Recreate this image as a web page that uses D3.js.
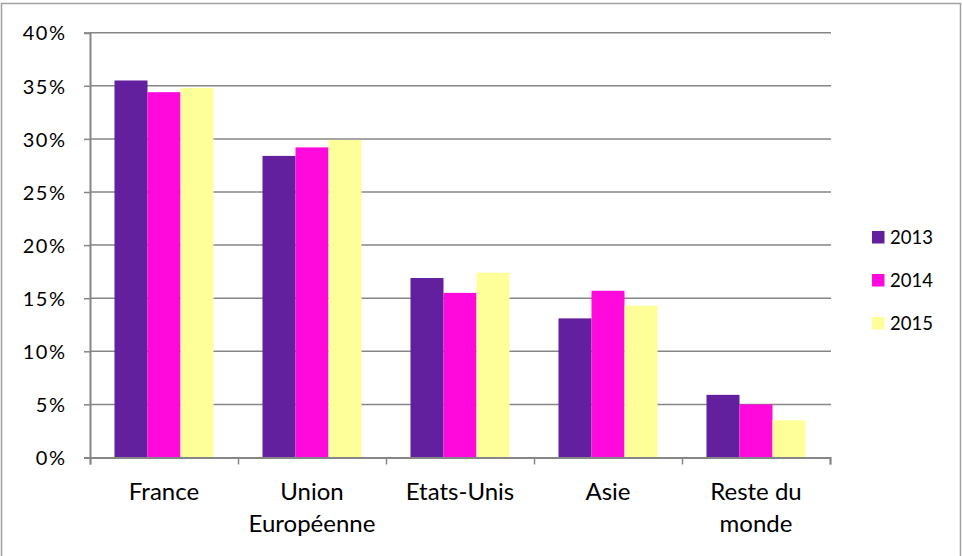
<!DOCTYPE html>
<html><head><meta charset="utf-8">
<script src="https://cdn.jsdelivr.net/npm/d3@7"></script>
<style>html,body{margin:0;padding:0;background:#fff;}svg{display:block;}</style>
</head><body>
<svg id="c" width="962" height="556"></svg>
<script>
const categories = [["France"], ["Union", "Européenne"], ["Etats-Unis"], ["Asie"], ["Reste du", "monde"]];
const years = ["2013", "2014", "2015"];
const v2013 = [35.5, 28.4, 16.9, 13.1, 5.9];
const v2014 = [34.4, 29.2, 15.5, 15.7, 5.0];
const v2015 = [34.8, 29.9, 17.4, 14.3, 3.5];
const yTicks = [0, 5, 10, 15, 20, 25, 30, 35, 40];
const colors = ["#621F9E", "#FF09DC", "#FFFF99"];

const series = [v2013, v2014, v2015];
const svg = d3.select("#c");
const font = "Lato, 'Open Sans', sans-serif";
const grey = "#868686";

svg.append("rect").attr("x", 1.5).attr("y", 3.5).attr("width", 959).attr("height", 556)
  .attr("fill", "none").attr("stroke", "#a0a0a0").attr("stroke-width", 1.5);

const pLeft = 90, pRight = 830, pTop = 32.7, pBottom = 457.5;
const catIdx = categories.map((d, i) => i);
const x0 = d3.scaleBand().domain(catIdx).range([pLeft, pRight]).paddingInner(0.331).paddingOuter(0.1655);
const x1 = d3.scaleBand().domain(years).range([0, x0.bandwidth()]);
const y = d3.scaleLinear().domain([0, 40]).range([pBottom, pTop]);

// gridlines
svg.append("g").selectAll("line").data(yTicks.filter(t => t > 0)).join("line")
  .attr("x1", pLeft).attr("x2", pRight + 1).attr("y1", d => y(d)).attr("y2", d => y(d))
  .attr("stroke", grey).attr("stroke-width", 1.5);

// bars
const g = svg.append("g");
series.forEach((vals, si) => {
  g.append("g").selectAll("rect").data(vals).join("rect")
    .attr("x", (d, i) => x0(i) + x1(years[si]))
    .attr("width", x1.bandwidth())
    .attr("y", d => y(d))
    .attr("height", d => y(0) - y(d))
    .attr("fill", colors[si]);
});

// y axis
const yAxis = d3.axisLeft(y).tickValues(yTicks).tickSize(6).tickPadding(17.5).tickFormat(d => d + "%");
const ya = svg.append("g").attr("transform", `translate(${pLeft},0)`).call(yAxis);
ya.select(".domain").attr("stroke", grey).attr("stroke-width", 2);
ya.selectAll(".tick line").attr("stroke", grey).attr("stroke-width", 1.5);
ya.selectAll(".tick text").attr("font-family", font).attr("font-size", "20px")
  .attr("letter-spacing", "1.5px").attr("fill", "#000").attr("dy", "0.36em");

// x axis
const xb = d3.scaleLinear().domain([0, categories.length]).range([pLeft, pRight]);
const xAxis = d3.axisBottom(xb).tickValues(d3.range(categories.length + 1)).tickSize(7).tickFormat("");
const xa = svg.append("g").attr("transform", `translate(0,${pBottom})`).call(xAxis);
xa.select(".domain").attr("stroke", grey).attr("stroke-width", 2);
xa.selectAll(".tick line").attr("stroke", grey).attr("stroke-width", 1.5);

// category labels
const lab = svg.append("g").selectAll("text").data(categories).join("text")
  .attr("x", (d, i) => x0(i) + x0.bandwidth() / 2)
  .attr("y", 500)
  .attr("text-anchor", "middle")
  .attr("font-family", font).attr("font-size", "24px").attr("fill", "#000");
lab.selectAll("tspan").data(d => d).join("tspan")
  .attr("x", function () { return d3.select(this.parentNode).attr("x"); })
  .attr("dy", (d, i) => i === 0 ? 0 : 32)
  .text(d => d);

// legend
const leg = svg.append("g").selectAll("g").data(years).join("g")
  .attr("transform", (d, i) => `translate(872,${231 + i * 43})`);
leg.append("rect").attr("width", 12.5).attr("height", 12.5).attr("fill", (d, i) => colors[i]);
leg.append("text").attr("x", 18).attr("y", 12.5).attr("font-family", font).attr("font-size", "18.5px")
  .attr("fill", "#000").text(d => d);
</script>
</body></html>
